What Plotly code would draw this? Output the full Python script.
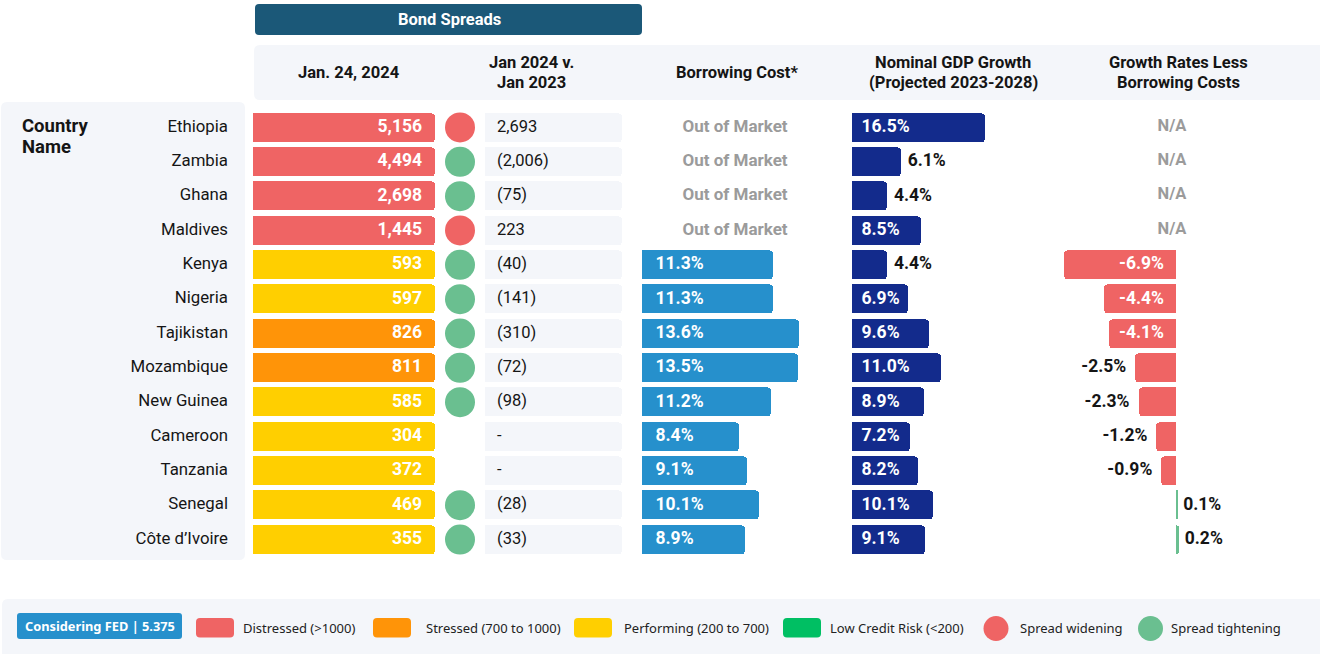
import plotly.graph_objects as go

W, H = 1320, 654

# ---------------- data ----------------
countries = ["Ethiopia", "Zambia", "Ghana", "Maldives", "Kenya", "Nigeria", "Tajikistan",
             "Mozambique", "New Guinea", "Cameroon", "Tanzania", "Senegal", "Côte d’Ivoire"]
spread_jan2024 = [5156, 4494, 2698, 1445, 593, 597, 826, 811, 585, 304, 372, 469, 355]
spread_change = [2693, -2006, -75, 223, -40, -141, -310, -72, -98, None, None, -28, -33]
borrowing_cost = [None, None, None, None, 11.3, 11.3, 13.6, 13.5, 11.2, 8.4, 9.1, 10.1, 8.9]
gdp_growth = [16.5, 6.1, 4.4, 8.5, 4.4, 6.9, 9.6, 11.0, 8.9, 7.2, 8.2, 10.1, 9.1]
growth_less_cost = [None, None, None, None, -6.9, -4.4, -4.1, -2.5, -2.3, -1.2, -0.9, 0.1, 0.2]

column_headers = ["Jan. 24, 2024", "Jan 2024 v.<br>Jan 2023", "Borrowing Cost*",
                  "Nominal GDP Growth<br>(Projected 2023-2028)", "Growth Rates Less<br>Borrowing Costs"]
legend_labels = ["Distressed (>1000)", "Stressed (700 to 1000)", "Performing (200 to 700)",
                 "Low Credit Risk (<200)", "Spread widening", "Spread tightening"]
fed_label = "Considering FED | 5.375"

# ---------------- style ----------------
F = "Roboto"
FL = "Noto Sans"
RED = "#ef6464"
ORANGE = "#ff9408"
YELLOW = "#ffcf00"
GREEN = "#00bf63"
CIRC_GREEN = "#6abf90"
BLUE = "#2690cc"
NAVY = "#132b8c"
DARK = "#1b5878"
GRAY_BG = "#f4f6fa"
TXT = "#151515"
MUTED = "#9b9b9b"


def spread_color(v):
    if v > 1000:
        return RED
    if v >= 700:
        return ORANGE
    if v >= 200:
        return YELLOW
    return GREEN


def X(p):
    return p / W


def Y(p):
    return 1 - p / H


def rrect(x0, y0, x1, y1, r, color):
    path = (f"M {X(x0 + r)},{Y(y0)} L {X(x1 - r)},{Y(y0)} Q {X(x1)},{Y(y0)} {X(x1)},{Y(y0 + r)} "
            f"L {X(x1)},{Y(y1 - r)} Q {X(x1)},{Y(y1)} {X(x1 - r)},{Y(y1)} "
            f"L {X(x0 + r)},{Y(y1)} Q {X(x0)},{Y(y1)} {X(x0)},{Y(y1 - r)} "
            f"L {X(x0)},{Y(y0 + r)} Q {X(x0)},{Y(y0)} {X(x0 + r)},{Y(y0)} Z")
    return dict(type="path", path=path, xref="paper", yref="paper", fillcolor=color,
                line=dict(width=0), layer="below")


n = len(countries)
ypos = list(range(n))
row_top, row_bot = 110.3, 556.7
ydom = [Y(row_bot), Y(row_top)]

BORROW_PX = 11.55   # px per %
GDP_PX = 8.06
GAP_PX = 16.3
cols = [
    (0, 228, [0, 1]),
    (253, 435, [0, 1]),
    (445, 475, [0, 1]),
    (485, 622, [0, 1]),
    (642, 842, [0, 200 / BORROW_PX]),
    (852, 1040, [0, 188 / GDP_PX]),
    (1050, 1320, [(1050 - 1176) / GAP_PX, (1320 - 1176) / GAP_PX]),
]

fig = go.Figure()
layout_axes = {}
for i, (a, b, rng) in enumerate(cols, start=1):
    sfx = "" if i == 1 else str(i)
    layout_axes[f"xaxis{sfx}"] = dict(domain=[X(a), X(b)], range=rng, visible=False,
                                      fixedrange=True, anchor=f"y{sfx}")
    layout_axes[f"yaxis{sfx}"] = dict(domain=ydom, range=[n - 0.5, -0.5], visible=False,
                                      fixedrange=True, anchor=f"x{sfx}")


def ax(i):
    return ("x" if i == 1 else f"x{i}"), ("y" if i == 1 else f"y{i}")


def text_trace(i, xs, ys, texts, pos, color, size=15, weight=400):
    xa, ya = ax(i)
    return go.Scatter(x=xs, y=ys, text=texts, mode="text", textposition=pos,
                      textfont=dict(family=F, size=size, color=color, weight=weight),
                      xaxis=xa, yaxis=ya, hoverinfo="skip", showlegend=False, cliponaxis=False)


BW = 0.84
VAL_SIZE = 17.5

# 1 names
fig.add_trace(text_trace(1, [1] * n, ypos, countries, "middle left", TXT, 16.8))

# 2 spread cells
xa, ya = ax(2)
fig.add_trace(go.Bar(x=[1] * n, y=ypos, orientation="h", width=BW,
                     marker=dict(color=[spread_color(v) for v in spread_jan2024], cornerradius=4,
                                 line=dict(width=0)),
                     xaxis=xa, yaxis=ya, hoverinfo="skip", showlegend=False))
fig.add_trace(text_trace(2, [(422 - 253) / 182] * n, ypos, [f"{v:,}" for v in spread_jan2024],
                         "middle left", "white", VAL_SIZE, 700))

# 3 direction dots
xa, ya = ax(3)
dot_y = [yy for yy, c in zip(ypos, spread_change) if c is not None]
dot_c = [RED if c > 0 else CIRC_GREEN for c in spread_change if c is not None]
fig.add_trace(go.Scatter(x=[0.5] * len(dot_y), y=dot_y, mode="markers",
                         marker=dict(size=30, color=dot_c, line=dict(width=0)),
                         xaxis=xa, yaxis=ya, hoverinfo="skip", showlegend=False, cliponaxis=False))


def fmt_change(c):
    if c is None:
        return "-"
    return f"({abs(c):,})" if c < 0 else f"{c:,}"


# 4 change cells
xa, ya = ax(4)
fig.add_trace(go.Bar(x=[1] * n, y=ypos, orientation="h", width=BW,
                     marker=dict(color=GRAY_BG, cornerradius=4, line=dict(width=0)),
                     xaxis=xa, yaxis=ya, hoverinfo="skip", showlegend=False))
fig.add_trace(text_trace(4, [12 / 137] * n, ypos, [fmt_change(c) for c in spread_change],
                         "middle right", TXT, 16.5))

# 5 borrowing cost
xa, ya = ax(5)
b_y = [yy for yy, v in zip(ypos, borrowing_cost) if v is not None]
b_v = [v for v in borrowing_cost if v is not None]
fig.add_trace(go.Bar(x=b_v, y=b_y, orientation="h", width=BW,
                     marker=dict(color=BLUE, cornerradius=4, line=dict(width=0)),
                     xaxis=xa, yaxis=ya, hoverinfo="skip", showlegend=False))
fig.add_trace(text_trace(5, [13.5 / BORROW_PX] * len(b_y), b_y, [f"{v:.1f}%" for v in b_v],
                         "middle right", "white", VAL_SIZE, 700))
oom_y = [yy for yy, v in zip(ypos, borrowing_cost) if v is None]
fig.add_trace(text_trace(5, [(735 - 642) / BORROW_PX] * len(oom_y), oom_y,
                         ["Out of Market"] * len(oom_y), "middle center", MUTED, 17, 700))

# 6 gdp growth
xa, ya = ax(6)
fig.add_trace(go.Bar(x=gdp_growth, y=ypos, orientation="h", width=BW,
                     marker=dict(color=NAVY, cornerradius=4, line=dict(width=0)),
                     xaxis=xa, yaxis=ya, hoverinfo="skip", showlegend=False))
gi = [(yy, v) for yy, v in zip(ypos, gdp_growth) if v >= 6.5]
go_ = [(yy, v) for yy, v in zip(ypos, gdp_growth) if v < 6.5]
fig.add_trace(text_trace(6, [9.5 / GDP_PX] * len(gi), [p[0] for p in gi],
                         [f"{p[1]:.1f}%" for p in gi], "middle right", "white", VAL_SIZE, 700))
fig.add_trace(text_trace(6, [p[1] + 6.5 / GDP_PX for p in go_], [p[0] for p in go_],
                         [f"{p[1]:.1f}%" for p in go_], "middle right", TXT, VAL_SIZE, 700))

# 7 growth less borrowing
xa, ya = ax(7)
g_y = [yy for yy, v in zip(ypos, growth_less_cost) if v is not None]
g_v = [v for v in growth_less_cost if v is not None]
fig.add_trace(go.Bar(x=g_v, y=g_y, orientation="h", width=BW,
                     marker=dict(color=[RED if v < 0 else CIRC_GREEN for v in g_v],
                                 cornerradius=4, line=dict(width=0)),
                     xaxis=xa, yaxis=ya, hoverinfo="skip", showlegend=False))
gin = [(yy, v) for yy, v in zip(g_y, g_v) if abs(v) >= 3]
gneg = [(yy, v) for yy, v in zip(g_y, g_v) if -3 < v < 0]
gpos = [(yy, v) for yy, v in zip(g_y, g_v) if v >= 0]
fig.add_trace(text_trace(7, [-12 / GAP_PX] * len(gin), [p[0] for p in gin],
                         [f"{p[1]:.1f}%" for p in gin], "middle left", "white", VAL_SIZE, 700))
fig.add_trace(text_trace(7, [p[1] - 9 / GAP_PX for p in gneg], [p[0] for p in gneg],
                         [f"{p[1]:.1f}%" for p in gneg], "middle left", TXT, VAL_SIZE, 700))
fig.add_trace(text_trace(7, [p[1] + 5.5 / GAP_PX for p in gpos], [p[0] for p in gpos],
                         [f"{p[1]:.1f}%" for p in gpos], "middle right", TXT, VAL_SIZE, 700))
na_y = [yy - 0.03 for yy, v in zip(ypos, growth_less_cost) if v is None]
fig.add_trace(text_trace(7, [(1172 - 1176) / GAP_PX] * len(na_y), na_y, ["N/A"] * len(na_y),
                         "middle center", MUTED, 16.5, 700))

# ---------------- shapes ----------------
shapes = [
    rrect(1, 102, 245, 560, 6, GRAY_BG),
    rrect(254, 45, 1326, 100, 6, GRAY_BG),
    rrect(255, 4, 642, 35, 4, DARK),
    rrect(2, 599, 1326, 660, 6, GRAY_BG),
    rrect(17, 613, 182, 639, 3, BLUE),
]
legend_sq = [(196, RED), (373, ORANGE), (574, YELLOW), (783, GREEN)]
for x0, c in legend_sq:
    shapes.append(rrect(x0, 618, x0 + 38, 637.5, 4, c))
for cx, c in [(996, RED), (1150.5, CIRC_GREEN)]:
    shapes.append(dict(type="circle", xref="paper", yref="paper", x0=X(cx - 12.5), x1=X(cx + 12.5),
                       y0=Y(641), y1=Y(616), fillcolor=c, line=dict(width=0), layer="below"))

# ---------------- annotations ----------------
ann = []


def add_ann(xp, yp, text, size, color, weight=400, xanchor="center", family=F, align="center"):
    ann.append(dict(x=X(xp), y=Y(yp), xref="paper", yref="paper", text=text, showarrow=False,
                    xanchor=xanchor, yanchor="middle", align=align, borderpad=0,
                    font=dict(family=family, size=size, color=color, weight=weight)))


def add_lines(xp, yc, text, size, color, weight, spacing, xanchor="center"):
    lines = text.split("<br>")
    k = len(lines)
    for j, ln in enumerate(lines):
        add_ann(xp, yc + (j - (k - 1) / 2) * spacing, ln, size, color, weight, xanchor=xanchor,
                align="left" if xanchor == "left" else "center")


add_ann(449, 19.5, "Bond Spreads", 16.5, "white", 700)
header_cx = [349, 531, 737, 953, 1178]
for cx, t in zip(header_cx, column_headers):
    add_lines(cx, 72.5, t, 16.5, TXT, 700, 19.5)
add_lines(21, 136.5, "Country<br>Name", 18.5, TXT, 700, 20.5, xanchor="left")
add_ann(99.5, 626, fed_label, 12.8, "white", 700, family=FL)
legend_tx = [242, 425, 623, 829, 1019, 1170]
for xp, t in zip(legend_tx, legend_labels):
    add_ann(xp, 627.5, t, 13, "#222222", 400, xanchor="left", family=FL)

fig.update_layout(
    width=W, height=H, margin=dict(l=0, r=0, t=0, b=0),
    paper_bgcolor="white", plot_bgcolor="rgba(0,0,0,0)",
    barmode="overlay", bargap=0, showlegend=False,
    shapes=shapes, annotations=ann, **layout_axes,
)

fig.write_html("out.html", config={"displayModeBar": False},
               post_script="document.body.style.margin='0';document.body.style.overflow='hidden';")
